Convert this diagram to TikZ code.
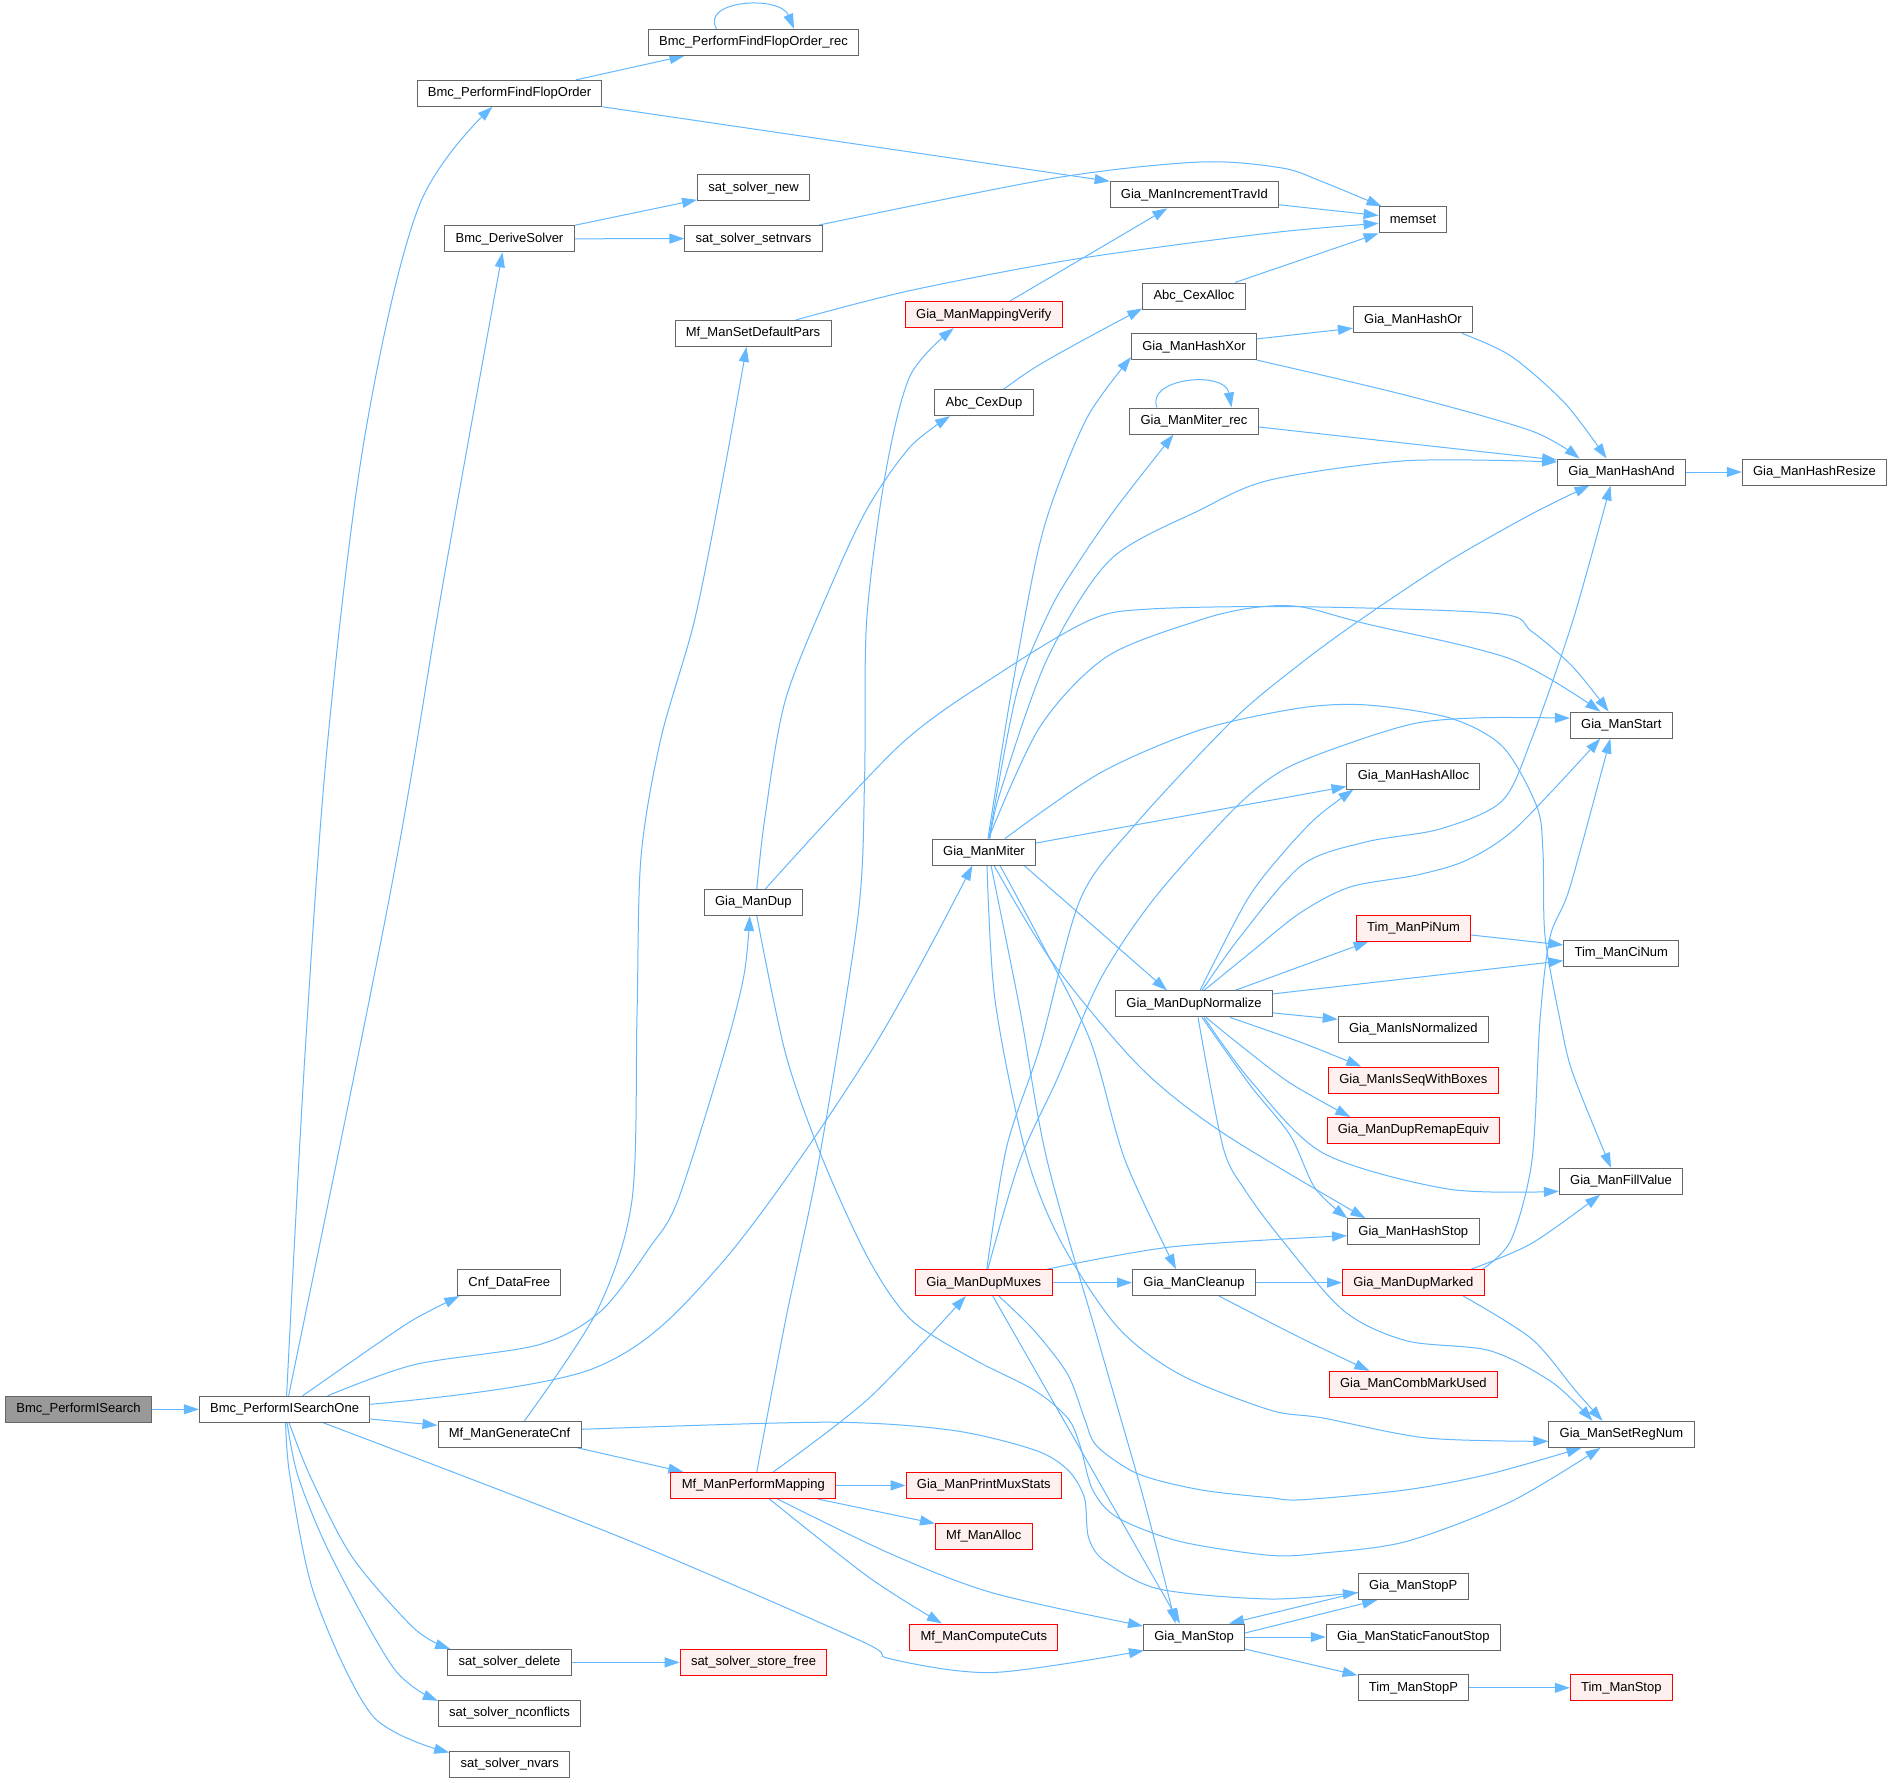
\documentclass[tikz,border=0pt]{standalone}
\usepackage{fontspec}
\setmainfont{Liberation Sans}
\usetikzlibrary{arrows.meta}
\pgfdeclarelayer{bgl}
\pgfdeclarelayer{edges}
\pgfsetlayers{bgl,edges,main}
\definecolor{edgeblue}{HTML}{63B8FF}
\definecolor{nodegray}{HTML}{666666}
\definecolor{rootfill}{HTML}{999999}
\definecolor{redfill}{HTML}{FFF0F0}
\definecolor{redline}{HTML}{FF0000}
\begin{document}
\begin{tikzpicture}[x=1pt,y=-1pt,
  fn/.style={draw=nodegray, line width=1pt, fill=white, rectangle, minimum height=26pt,
    inner xsep=10.8pt, inner ysep=0pt, text height=9.4pt, text depth=2.6pt,
    font=\fontsize{13}{15}\selectfont},
  root/.style={fn, fill=rootfill},
  miss/.style={fn, draw=redline, fill=redfill},
  edge/.style={draw=edgeblue, line width=1pt, -{Triangle[length=15pt,width=10pt]}},
]
\useasboundingbox (0,0) rectangle (1893,1783);
\begin{pgfonlayer}{bgl}
\fill[white] (0,0) rectangle (1893,1783);
\end{pgfonlayer}

\node[root] (ps) at (78.5,1409.3) {Bmc\_PerformISearch};
\node[fn] (pso) at (284.6,1409.3) {Bmc\_PerformISearchOne};
\node[fn] (ffo) at (509.5,93.3) {Bmc\_PerformFindFlopOrder};
\node[fn] (ffr) at (753.5,42.3) {Bmc\_PerformFindFlopOrder\_rec};
\node[fn] (ds) at (509.5,238.8) {Bmc\_DeriveSolver};
\node[fn] (ssn) at (753.5,187.8) {sat\_solver\_new};
\node[fn] (ssv) at (753.5,238.6) {sat\_solver\_setnvars};
\node[fn] (itid) at (1194.4,194.8) {Gia\_ManIncrementTravId};
\node[fn] (mem) at (1413,219.8) {memset};
\node[fn] (sdp) at (753,333.4) {Mf\_ManSetDefaultPars};
\node[miss] (mv) at (983.7,314.7) {Gia\_ManMappingVerify};
\node[fn] (ca) at (1194,296) {Abc\_CexAlloc};
\node[fn] (hx) at (1194,346.6) {Gia\_ManHashXor};
\node[fn] (ho) at (1413,319.9) {Gia\_ManHashOr};
\node[fn] (cd) at (984,402.7) {Abc\_CexDup};
\node[fn] (mr) at (1194,421) {Gia\_ManMiter\_rec};
\node[fn] (ha) at (1621.5,472) {Gia\_ManHashAnd};
\node[fn] (hr) at (1814.5,472) {Gia\_ManHashResize};
\node[fn] (st) at (1621.3,725.1) {Gia\_ManStart};
\node[fn] (hal) at (1413.4,776) {Gia\_ManHashAlloc};
\node[fn] (mi) at (984,852) {Gia\_ManMiter};
\node[fn] (dup) at (753.3,902.5) {Gia\_ManDup};
\node[miss] (pin) at (1413.5,928) {Tim\_ManPiNum};
\node[fn] (cin) at (1621.3,953) {Tim\_ManCiNum};
\node[fn] (dn) at (1194,1003.9) {Gia\_ManDupNormalize};
\node[fn] (isn) at (1413.3,1029) {Gia\_ManIsNormalized};
\node[miss] (isb) at (1413.3,1080) {Gia\_ManIsSeqWithBoxes};
\node[miss] (rme) at (1413.3,1130.5) {Gia\_ManDupRemapEquiv};
\node[fn] (fv) at (1621,1181.3) {Gia\_ManFillValue};
\node[fn] (hs) at (1413.3,1231.7) {Gia\_ManHashStop};
\node[fn] (cdf) at (509.3,1282.6) {Cnf\_DataFree};
\node[miss] (dm) at (983.8,1282.6) {Gia\_ManDupMuxes};
\node[fn] (cl) at (1194,1282.6) {Gia\_ManCleanup};
\node[miss] (dmk) at (1413.3,1282.6) {Gia\_ManDupMarked};
\node[miss] (cmu) at (1413.4,1384.3) {Gia\_ManCombMarkUsed};
\node[fn] (srn) at (1621.5,1434.3) {Gia\_ManSetRegNum};
\node[fn] (gc) at (509.5,1434.3) {Mf\_ManGenerateCnf};
\node[miss] (pm) at (753.3,1485.4) {Mf\_ManPerformMapping};
\node[miss] (pms) at (983.8,1485.4) {Gia\_ManPrintMuxStats};
\node[miss] (mal) at (983.8,1536) {Mf\_ManAlloc};
\node[fn] (stp) at (1413.3,1586.5) {Gia\_ManStopP};
\node[miss] (cc) at (983.8,1637) {Mf\_ManComputeCuts};
\node[fn] (gs) at (1194,1637) {Gia\_ManStop};
\node[fn] (sfs) at (1413.3,1637) {Gia\_ManStaticFanoutStop};
\node[fn] (sd) at (509.5,1662.4) {sat\_solver\_delete};
\node[miss] (ssf) at (753.5,1662.4) {sat\_solver\_store\_free};
\node[fn] (tsp) at (1413.4,1687.8) {Tim\_ManStopP};
\node[miss] (ts) at (1621.3,1687.8) {Tim\_ManStop};
\node[fn] (snc) at (509.5,1713.3) {sat\_solver\_nconflicts};
\node[fn] (snv) at (509.7,1764) {sat\_solver\_nvars};

\begin{pgfonlayer}{edges}
\draw[edge] (ps.east) -- (pso.west);
\draw[edge] plot[smooth,tension=.55] coordinates {([xshift=2pt]pso.north) (305,1054) (328,738) (365,435) (419,206) ([xshift=-17pt]ffo.south)};
\draw[edge] plot[smooth,tension=.6] coordinates {([xshift=4pt]pso.north) (389.7,896) (443.6,580) ([xshift=-7pt]ds.south)};
\draw[edge] plot[smooth,tension=.5] coordinates {([xshift=18pt]pso.north) (373,1346.7) (414.6,1319) ([xshift=-50pt]cdf.south)};
\draw[edge] plot[smooth,tension=.5] coordinates {([xshift=43pt]pso.north) (414.6,1364.6) (539,1344.7) (601,1311) (650,1247) (678,1200) (724,1054) (744,975) ([xshift=-3.5pt]dup.south)};
\draw[edge] plot[smooth,tension=.55] coordinates {([yshift=5pt]pso.east) (593,1368.6) (720,1265) (869,1054.5) ([xshift=-11.6pt]mi.south)};
\draw[edge] ([yshift=-9.7pt]pso.east) -- ([yshift=9pt]gc.west);
\draw[edge] plot[smooth,tension=.5] coordinates {([xshift=38.8pt]pso.south) (620,1537) (860.5,1640.7) (889.5,1658.6) (993,1672.5) ([xshift=1pt]gs.south west)};
\draw[edge] plot[smooth,tension=.5] coordinates {([xshift=4.5pt]pso.south) (310.9,1477.8) (352.4,1557.3) (414.6,1628.8) ([xshift=3pt]sd.north west)};
\draw[edge] plot[smooth,tension=.5] coordinates {([xshift=2.5pt]pso.south) (298.5,1477.8) (331.7,1557.3) (393.9,1668.5) ([yshift=-1pt]snc.north west)};
\draw[edge] plot[smooth,tension=.5] coordinates {([xshift=1pt]pso.south) (290.2,1477.8) (315,1597) (373,1716.2) ([yshift=-2pt]snv.north west)};
\draw[edge] ([xshift=66.7pt]ffo.north) -- ([xshift=-69pt]ffr.south);
\draw[edge] (ffo.south east) -- (itid.north west);
\draw[edge] ([xshift=-37pt]ffr.north) .. controls (700,0) and (780,-5) .. ([xshift=40.5pt]ffr.north);
\draw[edge] (ds.north east) -- ([yshift=1.5pt]ssn.south west);
\draw[edge] (ds.east) -- (ssv.west);
\draw[edge] plot[smooth,tension=.5] coordinates {([xshift=-4pt]ssv.north east) (1055,178) (1200,162) (1282,168) (1323,182) ([xshift=3pt]mem.north west)};
\draw[edge] ([yshift=-10pt]itid.east) -- ([yshift=4.3pt]mem.west);
\draw[edge] plot[smooth,tension=.5] coordinates {([xshift=43pt]sdp.north) (910,290.6) (1076,259) (1270,233) ([yshift=-3.6pt]mem.west)};
\draw[edge] ([xshift=26pt]mv.north) -- ([xshift=-27pt]itid.south);
\draw[edge] ([xshift=41pt]ca.north) -- (mem.south west);
\draw[edge] plot[smooth,tension=.5] coordinates {([xshift=19.5pt]cd.north) (1034.6,367.7) (1076,344) ([yshift=1pt]ca.south west)};
\draw[edge] plot[smooth,tension=.5] coordinates {([xshift=3.5pt]dup.north) (765,817) (785.8,698.6) (833.5,580) (868.7,506) (910.2,446.8) ([xshift=-34pt]cd.south)};
\draw[edge] plot[smooth,tension=.5] coordinates {([xshift=12pt]dup.north) (900,745) (1000,673) (1090,620) (1150,609) (1300,606.7) (1498,613.6) (1531.6,631.4) (1573,667) ([xshift=-12.7pt]st.north)};
\draw[edge] plot[smooth,tension=.5] coordinates {([xshift=3.5pt]dup.south) (785.8,1054.5) (823,1160) (868.7,1259.3) (910.2,1319) (972.4,1358.6) (1034.6,1390.4) (1067.8,1418.2) (1080.2,1446) (1092.6,1489.8) (1117.5,1517.6) (1179.7,1541.4) (1270,1555.3) (1323,1553) (1406.6,1541.4) (1510.7,1501.7) ([xshift=-21pt]srn.south)};
\draw[edge] plot[smooth,tension=.5] coordinates {([xshift=4pt]mi.north) (1010,700) (1036,560) (1055,494) (1088.5,415) ([yshift=3pt]hx.south west)};
\draw[edge] plot[smooth,tension=.5] coordinates {([xshift=5pt]mi.north) (1016.7,693) (1050,610) (1080,560) (1117.5,506) ([xshift=-20.5pt]mr.south)};
\draw[edge] plot[smooth,tension=.5] coordinates {([xshift=6pt]mi.north) (1000,793) (1046.7,660) (1110,560) (1200,510) (1270,480) (1406.6,460.7) ([yshift=10pt]ha.west)};
\draw[edge] plot[smooth,tension=.5] coordinates {([xshift=4.5pt]mi.north) (1040,726.7) (1106.7,656.7) (1200,620) (1253,607.7) (1300,606.7) (1365,623.5) (1510.7,659) ([xshift=-21pt]st.north)};
\draw[edge] plot[smooth,tension=.5] coordinates {([xshift=21pt]mi.north) (1100,773) (1200,730) (1300,708) (1367,705) (1450,718) (1503,747) (1537,807) (1543,853) (1545,936) (1560,1020) (1573,1074) ([xshift=-10pt]fv.north)};
\draw[edge] ([yshift=9pt]mi.east) -- ([yshift=3pt]hal.south west);
\draw[edge] ([xshift=-12pt]mi.south east) -- ([xshift=-27pt]dn.north);
\draw[edge] plot[smooth,tension=.5] coordinates {([xshift=16pt]mi.south) (1040,940) (1090,1040) (1125,1160) ([xshift=-18pt]cl.north)};
\draw[edge] plot[smooth,tension=.5] coordinates {([xshift=10pt]mi.south) (1053,963) (1140,1067) (1223,1133) ([xshift=-48pt]hs.north)};
\draw[edge] plot[smooth,tension=.5] coordinates {([xshift=3pt]mi.south) (995,1000) (1025,1150) (1060,1240) (1117.5,1327) (1180,1374.5) (1270,1410) (1323,1418) (1427,1438) ([yshift=-7pt]srn.west)};
\draw[edge] plot[smooth,tension=.5] coordinates {([xshift=7pt]mi.south) (1020,1010) (1047,1160) (1101,1350) (1144,1500) ([xshift=-18.5pt]gs.north)};
\draw[edge] ([yshift=7.7pt]hx.east) -- ([yshift=-8.3pt]ho.west);
\draw[edge] plot[smooth,tension=.5] coordinates {(hx.south east) (1406.6,395.4) (1531.6,431) ([xshift=-42pt]ha.north)};
\draw[edge] plot[smooth,tension=.5] coordinates {([xshift=49pt]ho.south) (1510.7,355.9) (1565,403.3) ([xshift=-15pt]ha.north)};
\draw[edge] ([yshift=-6pt]mr.east) -- ([yshift=12pt]ha.west);
\draw[edge] ([xshift=-37pt]mr.north) .. controls (1145,378) and (1225,370) .. ([xshift=37.5pt]mr.north);
\draw[edge] (ha.east) -- (hr.west);
\draw[edge] plot[smooth,tension=.5] coordinates {([xshift=6pt]dn.north) (1247,900) (1283,853) (1317,817) ([xshift=-60pt]hal.south)};
\draw[edge] plot[smooth,tension=.5] coordinates {([xshift=8pt]dn.north) (1240,937) (1302,865) (1367,841.7) (1440,829) (1502,801) (1532,738) (1573,620) ([xshift=-11pt]ha.south)};
\draw[edge] plot[smooth,tension=.5] coordinates {([xshift=10pt]dn.north) (1250,953) (1300,913) (1350,887) (1417,875) (1467,860) (1517,827) ([xshift=-21pt]st.south)};
\draw[edge] ([xshift=41pt]dn.north) -- ([xshift=-45pt]pin.south);
\draw[edge] ([yshift=10pt]dn.east) -- ([yshift=-7.7pt]cin.west);
\draw[edge] ([yshift=-9pt]dn.east) -- ([yshift=9.7pt]isn.west);
\draw[edge] plot[smooth,tension=.5] coordinates {([xshift=36pt]dn.south) (1300,1042) ([xshift=-52pt]isb.north)};
\draw[edge] plot[smooth,tension=.5] coordinates {([xshift=12pt]dn.south) (1240,1045) (1290,1083) ([xshift=-63pt]rme.north)};
\draw[edge] plot[smooth,tension=.5] coordinates {([xshift=10pt]dn.south) (1250,1080) (1323,1153) (1448,1189) ([yshift=-10pt]fv.west)};
\draw[edge] plot[smooth,tension=.5] coordinates {([xshift=8pt]dn.south) (1250,1085) (1290,1135) (1315,1188) ([xshift=-66pt]hs.north)};
\draw[edge] plot[smooth,tension=.5] coordinates {([xshift=4pt]dn.south) (1223,1147) (1245,1190) (1282,1240) (1344,1311) (1406.6,1340.8) (1490,1350.7) (1552.4,1382.5) ([xshift=-29pt]srn.north)};
\draw[edge] ([yshift=-7pt]pin.east) -- ([yshift=8pt]cin.west);
\draw[edge] plot[smooth,tension=.5] coordinates {([xshift=3pt]dm.north) (1006.7,1146.7) (1040,1046.7) (1080,900) (1133,827) (1233,720) (1300,664) (1360,620) (1448,561.5) (1531.6,514) ([xshift=-32pt]ha.south)};
\draw[edge] plot[smooth,tension=.5] coordinates {([xshift=4pt]dm.north) (1020,1160) (1056.7,1080) (1100,980) (1153,900) (1233,810) (1283,770) (1350,743) (1417,723) (1483,717.7) ([yshift=7pt]st.west)};
\draw[edge] plot[smooth,tension=.5] coordinates {([xshift=-5pt]dm.north east) (1173,1246.7) ([yshift=-4pt]hs.west)};
\draw[edge] (dm.east) -- (cl.west);
\draw[edge] plot[smooth,tension=.5] coordinates {([xshift=15pt]dm.south) (1034.6,1331) (1067.8,1374.5) (1084.4,1418.2) (1096.8,1446) (1138.2,1473.9) (1200.4,1489.8) (1270,1497.7) (1302.5,1499.7) (1406.6,1489.8) (1489.9,1473.9) ([xshift=-40pt]srn.south)};
\draw[edge] ([xshift=9pt]dm.south) -- ([xshift=-14pt]gs.north);
\draw[edge] (cl.east) -- (dmk.west);
\draw[edge] plot[smooth,tension=.5] coordinates {([xshift=25pt]cl.south) (1302.5,1338.8) ([xshift=-44pt]cmu.north)};
\draw[edge] plot[smooth,tension=.5] coordinates {([xshift=-2pt]dmk.north east) (1511,1240) (1532,1160) (1540,1020) (1550,937) (1570,887) ([xshift=-11pt]st.south)};
\draw[edge] plot[smooth,tension=.5] coordinates {([xshift=58pt]dmk.north) (1531.6,1243.4) ([xshift=-21pt]fv.south)};
\draw[edge] plot[smooth,tension=.5] coordinates {([xshift=50pt]dmk.south) (1531.6,1338.8) (1575,1390) ([xshift=-19pt]srn.north)};
\draw[edge] ([yshift=4pt]gs.east) -- ([xshift=-36pt]stp.south);
\draw[edge] ([yshift=-6pt]stp.west) -- ([xshift=35pt]gs.north);
\draw[edge] (gs.east) -- (sfs.west);
\draw[edge] ([yshift=-12pt]gs.east) -- ([yshift=-1pt]tsp.north west);
\draw[edge] (tsp.east) -- (ts.west);
\draw[edge] (sd.east) -- (ssf.west);
\draw[edge] ([xshift=-4pt]gc.south east) -- ([xshift=-70pt]pm.north);
\draw[edge] plot[smooth,tension=.5] coordinates {([xshift=15pt]gc.north) (597,1311) (632,1200) (637,1015) (641,857) (661,738) (694.6,620) (723.6,474.5) ([xshift=-6.5pt]sdp.south)};
\draw[edge] plot[smooth,tension=.5] coordinates {([yshift=5pt]gc.east) (827.3,1422.2) (951.7,1430.2) (1034.6,1450) (1067.8,1469.9) (1084.4,1497.7) (1088.5,1537.4) (1105,1561.3) (1159,1589) (1270,1599) ([yshift=-6pt]stp.west)};
\draw[edge] plot[smooth,tension=.5] coordinates {([xshift=3.5pt]pm.north) (785.8,1319) (819,1160) (858,916) (864.6,777.7) (866.7,620) (885.3,474.5) (910.2,375.6) ([xshift=-30pt]mv.south)};
\draw[edge] plot[smooth,tension=.5] coordinates {([xshift=20pt]pm.north) (868.7,1398.4) ([xshift=-18pt]dm.south)};
\draw[edge] (pm.east) -- (pms.west);
\draw[edge] ([xshift=64pt]pm.south) -- ([yshift=-1pt]mal.north west);
\draw[edge] plot[smooth,tension=.5] coordinates {([xshift=16pt]pm.south) (868.7,1577.2) ([xshift=-42pt]cc.north)};
\draw[edge] plot[smooth,tension=.5] coordinates {([xshift=24pt]pm.south) (889.5,1553.3) (993,1593) ([yshift=11pt]gs.west)};
\end{pgfonlayer}
\end{tikzpicture}
\end{document}
